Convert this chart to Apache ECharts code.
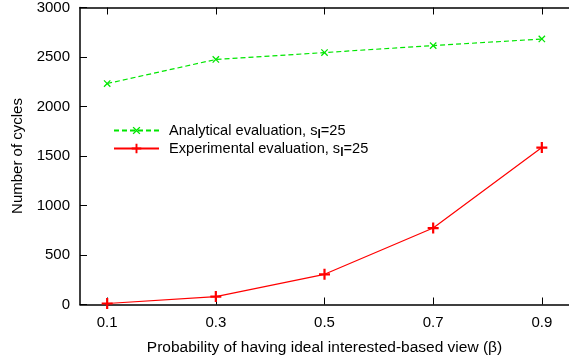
<!DOCTYPE html>
<html><head><meta charset="utf-8">
<script src="https://cdn.jsdelivr.net/npm/echarts@6/dist/echarts.min.js"></script>
<style>html,body{margin:0;padding:0;background:#fff}#c{width:569px;height:361px}</style>
</head><body><div id="c"></div>
<script>
const xValues = [0.1, 0.3, 0.5, 0.7, 0.9];
const analytical = [2232, 2475, 2545, 2615, 2682];
const experimental = [10, 80, 305, 772, 1585];
const xTicks = [0.1, 0.3, 0.5, 0.7, 0.9];
const seriesNames = ['Analytical evaluation, s_l=25', 'Experimental evaluation, s_l=25'];
const xTitle = 'Probability of having ideal interested-based view (\u03b2)';
const yTitle = 'Number of cycles';

const font = 'Liberation Sans, Arial, Helvetica, sans-serif';
const plus = 'path://M-1,-5H1V-1H5V1H1V5H-1V1H-5V-1H-1Z';
const xmark = 'path://M-0.7,-5H0.7V-0.7H5V0.7H0.7V5H-0.7V0.7H-5V-0.7H-0.7Z';

const chart = echarts.init(document.getElementById('c'), null, {renderer: 'canvas'});
const axisLine = {show: true, lineStyle: {color: '#000', width: 1.5}};
chart.setOption({
  animation: false,
  textStyle: {fontFamily: font},
  grid: {left: 80, top: 6, width: 497, height: 298.5, containLabel: false},
  legend: {
    orient: 'vertical', left: 113, top: 120, padding: 0, itemWidth: 45, itemHeight: 12, itemGap: -3,
    data: seriesNames,
    formatter: function (n) {
      const p = n.split('_');
      const rest = p[1].substring(1);
      return '{a|' + p[0] + '}{s|' + p[1][0] + '}{a|' + rest + '}';
    },
    textStyle: {
      padding: [0, 0, 0, 5],
      rich: {
        a: {fontSize: 14.6, fontFamily: font, color: '#000', lineHeight: 12},
        s: {fontSize: 12, fontFamily: font, color: '#000', fontWeight: 'bold', padding: [9, 0, 0, 0], lineHeight: 12}
      }
    }
  },
  xAxis: [{
    type: 'value', min: 0.05, max: 0.95, position: 'bottom',
    axisLine: axisLine,
    axisTick: {show: true, inside: true, length: 7, customValues: xTicks, lineStyle: {color: '#000', width: 1}},
    axisLabel: {customValues: xTicks, fontSize: 15, color: '#000', margin: 11, fontFamily: font,
      formatter: v => v.toFixed(1)},
    splitLine: {show: false},
    name: xTitle, nameLocation: 'middle', nameGap: 35,
    nameTextStyle: {fontSize: 15.5, color: '#000', fontFamily: font}
  }, {
    type: 'value', min: 0.05, max: 0.95, position: 'top',
    axisLine: axisLine,
    axisTick: {show: true, inside: true, length: 7, customValues: xTicks, lineStyle: {color: '#000', width: 1}},
    axisLabel: {show: false}, splitLine: {show: false}
  }],
  yAxis: {
    type: 'value', min: 0, max: 3000, interval: 500,
    axisLine: axisLine,
    axisTick: {show: true, inside: true, length: 7, lineStyle: {color: '#000', width: 1}},
    axisLabel: {fontSize: 15, color: '#000', margin: 10, fontFamily: font, formatter: v => String(v)},
    splitLine: {show: false},
    name: yTitle, nameLocation: 'middle', nameGap: 55,
    nameTextStyle: {fontSize: 15, color: '#000', fontFamily: font}
  },
  series: [{
    name: seriesNames[0], type: 'line',
    data: xValues.map((x, i) => [x, analytical[i]]),
    symbol: xmark, symbolSize: 9, symbolRotate: 45,
    lineStyle: {color: '#00e600', width: 1.2, type: [5, 3]},
    itemStyle: {color: '#00e600'}
  }, {
    name: seriesNames[1], type: 'line',
    data: xValues.map((x, i) => [x, experimental[i]]),
    symbol: plus, symbolSize: 11,
    lineStyle: {color: '#ff0000', width: 1.2},
    itemStyle: {color: '#ff0000'}
  }]
});
</script></body></html>
